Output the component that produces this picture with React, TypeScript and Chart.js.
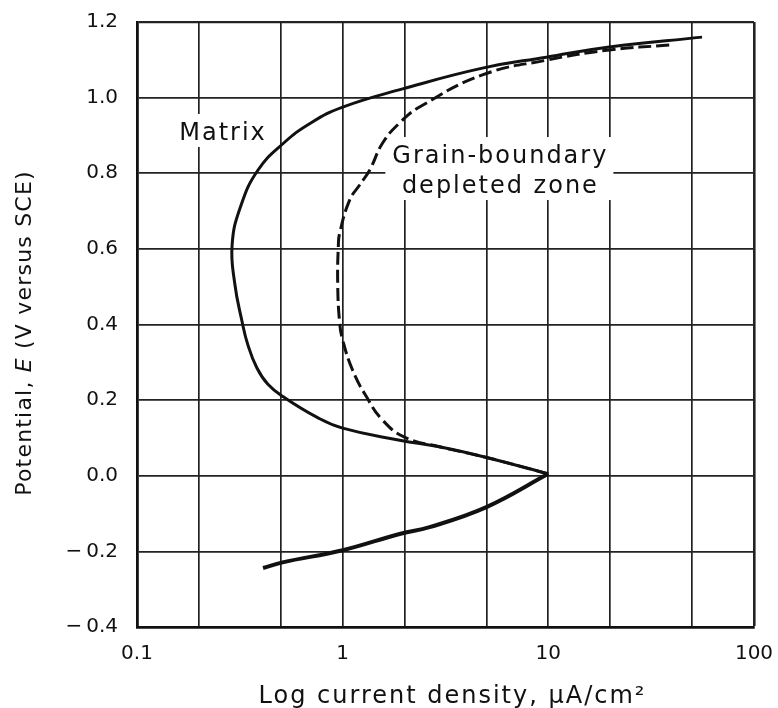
import React, { useEffect, useRef } from 'react';
import { Chart, registerables } from 'chart.js';

Chart.register(...registerables);

// Matrix, anodic (upper) branch, traced from the top-right end to the tip
const matrixX = [55.9, 19.8, 9.78, 4.78, 1.956, 1.0, 0.70, 0.517, 0.387, 0.318, 0.29, 0.299, 0.323, 0.346, 0.383, 0.433, 0.517, 0.748, 1.0, 1.891, 2.99, 4.95, 10.0];
const matrixY = [1.16, 1.134, 1.107, 1.078, 1.023, 0.975, 0.933, 0.88, 0.808, 0.71, 0.61, 0.507, 0.412, 0.346, 0.285, 0.242, 0.208, 0.155, 0.126, 0.094, 0.076, 0.049, 0.005];

// Grain-boundary depleted zone, anodic (upper) branch
const gbX = [38.7, 19.8, 9.78, 4.78, 2.365, 1.891, 1.564, 1.352, 1.209, 1.081, 0.967, 0.953, 0.946, 0.967, 1.0, 1.118, 1.308, 1.564, 2.0, 2.99, 4.95, 10.0];
const gbY = [1.139, 1.126, 1.099, 1.06, 0.975, 0.933, 0.88, 0.808, 0.769, 0.729, 0.642, 0.61, 0.507, 0.404, 0.359, 0.279, 0.208, 0.147, 0.102, 0.076, 0.049, 0.005];

// Cathodic (lower) branch, shared by both curves
const cathX = [10.0, 5.0, 2.645, 1.891, 1.0, 0.51, 0.41];
const cathY = [0.005, -0.083, -0.136, -0.154, -0.197, -0.229, -0.244];

const xGridValues = [0.1, 0.2, 0.5, 1, 2, 5, 10, 20, 50, 100];
const xTickValues = [0.1, 1, 10, 100];
const xTickLabels = ['0.1', '1', '10', '100'];
const yTickValues = [-0.4, -0.2, 0, 0.2, 0.4, 0.6, 0.8, 1.0, 1.2];
const yTickLabels = ['\u2212\u20090.4', '\u2212\u20090.2', '0.0', '0.2', '0.4', '0.6', '0.8', '1.0', '1.2'];

const annotations = [
  { x: 0.259, y: 0.888, lines: ['Matrix'] },
  { x: 5.78, y: 0.827, lines: ['Grain-boundary', 'depleted zone'] },
];

const xTitle = 'Log current density, \u03bcA/cm\u00b2';
const yTitleParts = ['Potential, ', 'E', ' (V versus SCE)'];

const INK = '#111111';
const FAMILY = '"DejaVu Sans"';

const toPts = (xs: number[], ys: number[]) => xs.map((v, i) => ({ x: v, y: ys[i] }));

const textPlugin = {
  id: 'textPlugin',
  beforeDatasetsDraw(chart: any) {
    const { ctx, scales } = chart;
    const x = scales.x, y = scales.y;
    ctx.save();
    ctx.font = `24px ${FAMILY}`;
    (ctx as any).letterSpacing = '2px';
    ctx.textAlign = 'center';
    ctx.textBaseline = 'alphabetic';
    for (const a of annotations) {
      const cx = x.getPixelForValue(a.x);
      const by = y.getPixelForValue(a.y);
      const w = Math.max(...a.lines.map((l) => ctx.measureText(l).width));
      const top = by - 26;
      const bottom = by + (a.lines.length - 1) * 30 + 7;
      ctx.fillStyle = '#ffffff';
      ctx.fillRect(cx - w / 2 - 6, top, w + 12, bottom - top);
      ctx.fillStyle = INK;
      a.lines.forEach((l, i) => ctx.fillText(l, cx + 1, by + i * 30));
    }
    ctx.restore();
  },
  afterDraw(chart: any) {
    const { ctx, chartArea } = chart;
    ctx.save();
    // x title
    ctx.font = `24px ${FAMILY}`;
    (ctx as any).letterSpacing = '2px';
    ctx.fillStyle = INK;
    ctx.textAlign = 'center';
    ctx.textBaseline = 'alphabetic';
    ctx.fillText(xTitle, (chartArea.left + chartArea.right) / 2 + 7, 703);
    // y title
    (ctx as any).letterSpacing = '1.2px';
    const fonts = [`22px ${FAMILY}`, `italic 22px ${FAMILY}`, `22px ${FAMILY}`];
    const widths = yTitleParts.map((p, i) => {
      ctx.font = fonts[i];
      return ctx.measureText(p).width;
    });
    const total = widths.reduce((a, b) => a + b, 0);
    ctx.translate(25, 333);
    ctx.rotate(-Math.PI / 2);
    ctx.textAlign = 'left';
    ctx.textBaseline = 'middle';
    let pos = -total / 2;
    yTitleParts.forEach((p, i) => {
      ctx.font = fonts[i];
      ctx.fillText(p, pos, 0);
      pos += widths[i];
    });
    ctx.restore();
  },
};

export default function App() {
  const ref = useRef<HTMLCanvasElement | null>(null);

  useEffect(() => {
    document.body.style.margin = '0';
    const canvas = ref.current;
    if (!canvas) return;
    const chart = new Chart(canvas, {
      type: 'scatter',
      data: {
        datasets: [
          {
            label: 'Matrix',
            data: toPts(matrixX, matrixY),
            showLine: true,
            borderColor: INK,
            borderWidth: 3,
            pointRadius: 0,
            tension: 0.45,
            fill: false,
          },
          {
            label: 'Grain-boundary depleted zone',
            data: toPts(gbX, gbY),
            showLine: true,
            borderColor: INK,
            borderWidth: 3,
            borderDash: [13, 5],
            pointRadius: 0,
            tension: 0.45,
            fill: false,
          },
          {
            label: 'Cathodic',
            data: toPts(cathX, cathY),
            showLine: true,
            borderColor: INK,
            borderWidth: 4,
            pointRadius: 0,
            tension: 0.4,
            fill: false,
          },
        ],
      },
      options: {
        animation: false,
        responsive: true,
        maintainAspectRatio: false,
        layout: { padding: { top: 22, right: 24, left: 0, bottom: 0 } },
        plugins: { legend: { display: false }, tooltip: { enabled: false } },
        scales: {
          x: {
            type: 'logarithmic',
            min: 0.1,
            max: 100,
            afterBuildTicks: (s: any) => {
              s.ticks = xGridValues.map((v) => ({ value: v }));
            },
            afterFit: (s: any) => {
              s.height = 81;
              s.paddingLeft = 0;
              s.paddingRight = 0;
              s.paddingTop = 0;
              s.paddingBottom = 0;
            },
            ticks: {
              autoSkip: false,
              maxRotation: 0,
              minRotation: 0,
              padding: 15,
              color: INK,
              font: { family: 'DejaVu Sans', size: 20 },
              callback: (v: any) => {
                const i = xTickValues.indexOf(Number(v));
                return i >= 0 ? xTickLabels[i] : '';
              },
            },
            grid: {
              color: '#222',
              lineWidth: (c: any) => (c.tick && c.tick.value === 100 ? 2.6 : 1.7),
              drawTicks: false,
            },
            border: { color: '#111', width: 2.8 },
          },
          y: {
            type: 'linear',
            min: -0.4,
            max: 1.2,
            afterBuildTicks: (s: any) => {
              s.ticks = yTickValues.map((v) => ({ value: v }));
            },
            afterFit: (s: any) => {
              s.width = 137;
              s.paddingLeft = 0;
              s.paddingRight = 0;
              s.paddingTop = 0;
              s.paddingBottom = 0;
            },
            ticks: {
              padding: 19,
              color: INK,
              font: { family: 'DejaVu Sans', size: 20 },
              callback: (_v: any, i: number) => yTickLabels[i],
            },
            grid: {
              color: '#222',
              lineWidth: (c: any) => (c.tick && Math.abs(c.tick.value - 1.2) < 1e-9 ? 2.2 : 1.7),
              drawTicks: false,
            },
            border: { color: '#111', width: 2.8 },
          },
        },
      },
      plugins: [textPlugin],
    } as any);
    return () => chart.destroy();
  }, []);

  return (
    <div style={{ width: 778, height: 708, position: 'relative', background: '#fff' }}>
      <canvas ref={ref} />
    </div>
  );
}
